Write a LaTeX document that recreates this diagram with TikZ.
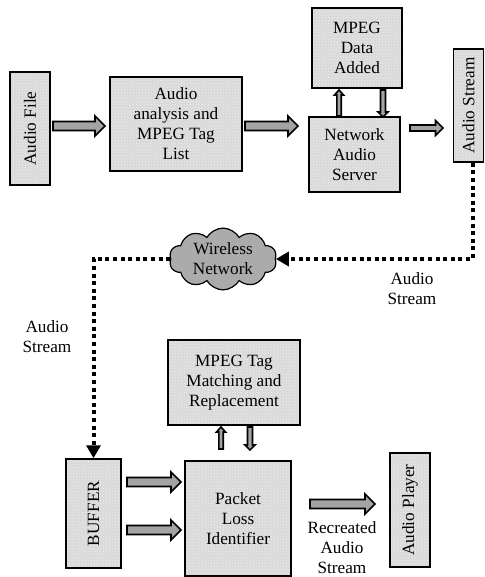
\documentclass[tikz,border=0pt]{standalone}
\usepackage{fontspec}
\setmainfont{Liberation Serif}
\usetikzlibrary{shapes.symbols,arrows.meta,patterns,calc}

\tikzset{
  box/.style={draw=black, line width=1.5pt, preaction={fill=gray!30},
    pattern=crosshatch dots, pattern color=gray!12,
    align=center, inner sep=1pt,
    font=\fontsize{17.2}{20}\selectfont},
  blockarrow/.style={draw=black, line width=1.6pt, line join=miter,
    fill=gray!72},
  dotline/.style={line width=4pt, dash pattern=on 4pt off 3.6pt,
    -{Triangle[length=13pt,width=14pt]}},
  lbl/.style={align=center, font=\fontsize{17.2}{20}\selectfont}
}

% \blockarrow{start}{tip}{shaft half width}{head half width}{head length}
\newcommand{\blockarrow}[5]{%
  \draw[blockarrow]
    ($(#1)!#3!90:(#2)$) --
    ($($(#2)!#5!(#1)$)!#3!-90:(#1)$) --
    ($($(#2)!#5!(#1)$)!#4!-90:(#1)$) --
    (#2) --
    ($($(#2)!#5!(#1)$)!#4!90:(#1)$) --
    ($($(#2)!#5!(#1)$)!#3!90:(#1)$) --
    ($(#1)!#3!-90:(#2)$) -- cycle;}

\begin{document}
\begin{tikzpicture}[x=1pt,y=-1pt]
\useasboundingbox (0,0) rectangle (484,577);

% upper row: source, analysis, server
\node[box, rotate=90, minimum width=113pt, minimum height=40pt] (audiofile) at (30,128.5) {Audio File};
\node[box, minimum width=132pt, minimum height=94pt] (analysis) at (176,124) {Audio\\analysis and\\MPEG Tag\\List};
\node[box, minimum width=90pt, minimum height=80pt] (mpegdata) at (357,48) {MPEG\\Data\\Added};
\node[box, minimum width=91pt, minimum height=75pt] (server) at (354.5,154.5) {Network\\Audio\\Server};
\node[box, rotate=90, minimum width=113pt, minimum height=30pt] (stream) at (468.5,105.5) {Audio Stream};

% transmission
\node[cloud, cloud puffs=10, cloud puff arc=120, aspect=2.3, draw=black, line width=1.2pt,
      fill=gray!66, inner sep=0pt, minimum width=97pt, minimum height=44pt,
      align=center, font=\fontsize{17.2}{20}\selectfont] (cloud) at (223,259) {Wireless\\Network};

% lower part: receiver side
\node[box, minimum width=132pt, minimum height=85pt] (tagmatch) at (234,382.5) {MPEG Tag\\Matching and\\Replacement};
\node[box, rotate=90, minimum width=109pt, minimum height=55pt] (buffer) at (93.5,513.5) {BUFFER};
\node[box, minimum width=106pt, minimum height=115pt] (packet) at (238,518.5) {Packet\\Loss\\Identifier};
\node[box, rotate=90, minimum width=114pt, minimum height=40pt] (player) at (410,510) {Audio Player};

% end points of the block arrows
\coordinate (a1s) at (53,126);   \coordinate (a1t) at (105,126);
\coordinate (a2s) at (245,126);  \coordinate (a2t) at (298,126);
\coordinate (a3s) at (410,128);  \coordinate (a3t) at (443,128);
\coordinate (a4s) at (339,116);  \coordinate (a4t) at (339,90);
\coordinate (a5s) at (383,90);   \coordinate (a5t) at (383,117);
\coordinate (a6s) at (221,449);  \coordinate (a6t) at (221,427);
\coordinate (a7s) at (250,427);  \coordinate (a7t) at (250,450);
\coordinate (a8s) at (127,482);  \coordinate (a8t) at (181,482);
\coordinate (a9s) at (127,530);  \coordinate (a9t) at (181,530);
\coordinate (a10s) at (310,504); \coordinate (a10t) at (375,504);

\blockarrow{a1s}{a1t}{4.5pt}{10pt}{10pt}
\blockarrow{a2s}{a2t}{4.5pt}{10pt}{10pt}
\blockarrow{a3s}{a3t}{3pt}{7.5pt}{7.5pt}
\blockarrow{a4s}{a4t}{2.2pt}{4.5pt}{5pt}
\blockarrow{a5s}{a5t}{2.5pt}{5pt}{5pt}
\blockarrow{a6s}{a6t}{2.2pt}{4.5pt}{5pt}
\blockarrow{a7s}{a7t}{2.5pt}{5pt}{5pt}
\blockarrow{a8s}{a8t}{4.5pt}{10pt}{10pt}
\blockarrow{a9s}{a9t}{4.5pt}{10pt}{10pt}
\blockarrow{a10s}{a10t}{4.5pt}{10pt}{10pt}

% wireless links
\draw[dotline] ([xshift=4pt]stream.west) |- (cloud.east);
\draw[dotline] (cloud.west) -| (buffer.east);

% labels
\node[lbl] (lstream1) at (412,289) {Audio\\Stream};
\node[lbl] (lstream2) at (47,337) {Audio\\Stream};
\node[lbl] (lrecreated) at (342,548) {Recreated\\Audio\\Stream};
\end{tikzpicture}
\end{document}
